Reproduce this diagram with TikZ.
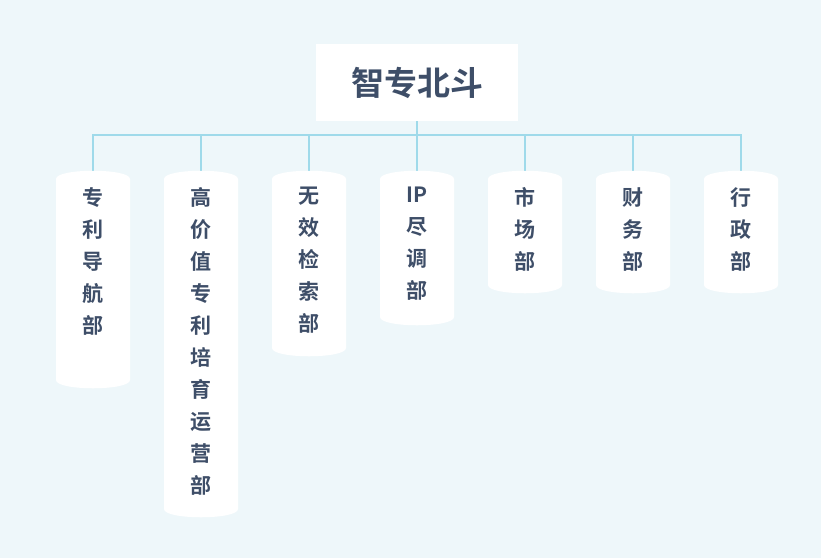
\documentclass[tikz,border=0pt]{standalone}
\usepackage{fontspec}
\newfontfamily\cjk{Noto Sans CJK SC Bold}
\begin{document}
\begin{tikzpicture}[x=1pt,y=-1pt,
  conn/.style={draw=linec,line width=1.6pt,rounded corners=8pt},
  lbl/.style={font=\cjk\fontsize{21}{32}\selectfont,text=txtc,align=center,anchor=north,inner sep=0pt}]
\definecolor{bgc}{HTML}{EEF7FA}
\definecolor{linec}{HTML}{9FDAEA}
\definecolor{txtc}{HTML}{3E4E68}
\fill[bgc] (0,0) rectangle (821,558);
\useasboundingbox (0,0) rectangle (821,558);
\node[fill=white,minimum width=202pt,minimum height=77pt,inner sep=0pt,font=\cjk\fontsize{33}{36}\selectfont,text=txtc] (root) at (417,82.5) {智专北斗};
\coordinate (hub) at (417,135);
\draw[conn] (root.south) -- (hub);
\foreach \i/\x/\b/\t in {1/93/388/{专\\利\\导\\航\\部},2/201/517/{高\\价\\值\\专\\利\\培\\育\\运\\营\\部},3/309/356/{无\\效\\检\\索\\部},4/417/325/{IP\\尽\\调\\部},5/525/293/{市\\场\\部},6/633/293/{财\\务\\部},7/741/293/{行\\政\\部}}{
  \coordinate (top\i) at (\x,171);
  \draw[conn,sharp corners] (hub) -| (top\i);
  \fill[white] (\x-37,179) .. controls (\x-37,168) and (\x+37,168) .. (\x+37,179)
     -- (\x+37,\b-8) .. controls (\x+37,\b+3) and (\x-37,\b+3) .. (\x-37,\b-8) -- cycle;
  \node[lbl] (b\i) at (\x,187) {\t};
}
\end{tikzpicture}
\end{document}
